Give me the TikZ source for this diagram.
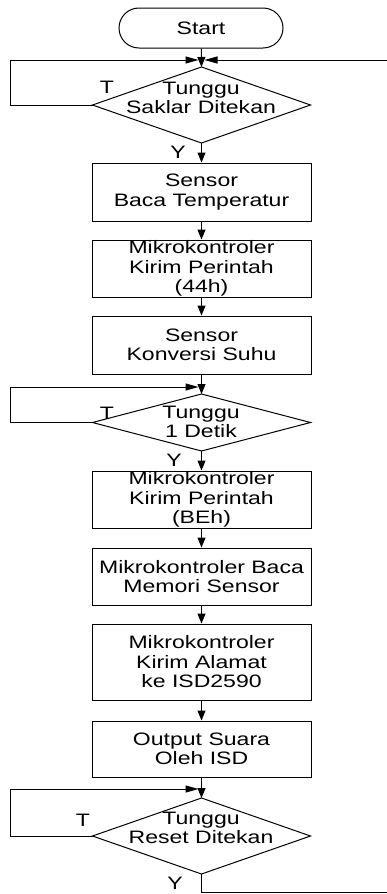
\documentclass[tikz,border=0pt]{standalone}
\usepackage{fontspec}
\setmainfont[FakeStretch=1.28]{Liberation Sans}
\usetikzlibrary{arrows.meta,shapes.geometric}
\begin{document}
\begin{tikzpicture}[x=1pt,y=-1pt,
  line width=1pt,
  txt/.style={font=\fontsize{18}{19.5}\selectfont, align=center, inner sep=0pt},
  term/.style={draw, rounded corners=20pt, minimum width=164pt, minimum height=40pt, inner sep=0pt, font=\fontsize{18}{19.5}\selectfont},
  procbox/.style={draw, rectangle, minimum width=219pt, inner sep=0pt, txt},
  decbox/.style={draw, diamond, minimum width=218pt, inner sep=0pt, outer sep=0pt},
  varr/.style={-{Triangle[length=10pt,width=8pt]}},
  harr/.style={-{Triangle[length=13pt,width=7pt]}, shorten >=3pt},
  lbl/.style={font=\fontsize{18}{19.5}\selectfont, inner sep=0pt}]
\useasboundingbox (0,0) rectangle (387,894);

\node[term] (start) at (201,28) {Start};

\node[decbox, minimum height=76pt] (d1) at (201.5,105) {};
\node[txt] (d1t) at (201,98) {Tunggu\\Saklar Ditekan};

\node[procbox, minimum height=58pt] (b1) at (201.5,192) {Sensor\\Baca Temperatur};
\node[procbox, minimum height=57pt] (b2) at (201.5,268.5) {Mikrokontroler\\Kirim Perintah\\(44h)};
\node[procbox, minimum height=58pt] (b3) at (201.5,345) {Sensor\\Konversi Suhu};

\node[decbox, minimum height=57pt] (d2) at (201.5,422.5) {};
\node[txt] (d2t) at (201,422) {Tunggu\\1 Detik};

\node[procbox, minimum height=57pt] (b4) at (201.5,499.5) {Mikrokontroler\\Kirim Perintah\\(BEh)};
\node[procbox, minimum height=57pt] (b5) at (201.5,576.5) {Mikrokontroler Baca\\Memori Sensor};
\node[procbox, minimum height=76pt] (b6) at (201.5,662) {Mikrokontroler\\Kirim Alamat\\ke ISD2590};
\node[procbox, minimum height=56pt] (b7) at (201.5,749) {Output Suara\\Oleh ISD};

\node[decbox, minimum height=76pt] (d3) at (201.5,836) {};
\node[txt] (d3t) at (201,828) {Tunggu\\Reset Ditekan};

% labels
\node[lbl] (t1) at (107,87) {T};
\node[lbl] (y1) at (178,152) {Y};
\node[lbl] (t2) at (107,413) {T};
\node[lbl] (y2) at (174,460) {Y};
\node[lbl] (t3) at (83,820) {T};
\node[lbl] (y3) at (175,883) {Y};

% coordinates
\coordinate (j1) at (201.5,60);
\coordinate (l1) at (10,60);
\coordinate (r1) at (387,60);
\coordinate (j2) at (201.5,387);
\coordinate (l2) at (10,387);
\coordinate (j3) at (201.5,789);
\coordinate (l3) at (10,789);
\coordinate (r2) at (387,892);

% main flow
\draw[varr] (start) -- (d1.north);
\draw[varr] (d1.south) -- (b1.north);
\draw[varr] (b1) -- (b2);
\draw[varr] (b2) -- (b3);
\draw[varr] (b3) -- (d2.north);
\draw[varr] (d2.south) -- (b4.north);
\draw[varr] (b4) -- (b5);
\draw[varr] (b5) -- (b6);
\draw[varr] (b6) -- (b7);
\draw[varr] (b7) -- (d3.north);

% loops
\draw[harr] (d1.west) -| (l1) -- (j1);
\draw[harr] (d2.west) -| (l2) -- (j2);
\draw[harr] (d3.west) -| (l3) -- (j3);
\draw[harr] (r1) -- (j1);
\draw (d3.south) |- (r2);
\end{tikzpicture}
\end{document}
